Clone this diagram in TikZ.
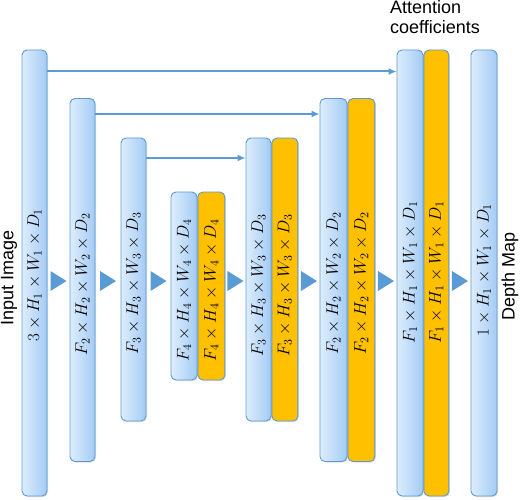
\documentclass[tikz,border=0pt]{standalone}
\usepackage{fix-cm}
\usepackage{fontspec}
\setsansfont{Liberation Sans}
\usetikzlibrary{arrows.meta,calc,shadows}
\definecolor{barline}{HTML}{5B9BD5}
\definecolor{barlight}{HTML}{DDEDFD}
\definecolor{bardark}{HTML}{A3CBF4}
\definecolor{attn}{HTML}{FFC000}

\begin{document}
\begin{tikzpicture}[x=1pt,y=-1pt,
	bar/.style={draw=barline, line width=0.9pt, rounded corners=5pt, inner sep=0pt,
		drop shadow={shadow xshift=1pt, shadow yshift=-1pt, opacity=0.25}},
	bluebar/.style={bar, left color=barlight, right color=bardark},
	attbar/.style={bar, fill=attn},
	dims/.style={rotate=90, inner sep=0pt, font=\fontsize{17}{20}\selectfont},
	side/.style={inner sep=0pt, font=\sffamily\fontsize{18}{20}\selectfont},
	skip/.style={draw=barline, line width=2pt, -{Latex[length=8pt,width=7pt]}},
	flow/.style={fill=barline}]
	\useasboundingbox (0,0) rectangle (522,500);
	
	% encoder
	\node[bluebar, minimum width=25pt, minimum height=446pt] (in1) at (34.5,273) {};
	\node[bluebar, minimum width=25pt, minimum height=363pt] (enc2) at (82.5,280) {};
	\node[bluebar, minimum width=25pt, minimum height=283pt] (enc3) at (133.5,279.5) {};
	
	% bottom, with attention
	\node[bluebar, minimum width=26pt, minimum height=188pt] (bott4) at (184,286) {};
	\node[attbar, minimum width=27pt, minimum height=188pt, anchor=west] (bott4o) at (bott4.east) {};
	
	% decoder, with attention
	\node[bluebar, minimum width=25pt, minimum height=283pt] (dec3) at (258.5,279.5) {};
	\node[attbar, minimum width=26pt, minimum height=283pt, anchor=west] (dec3o) at (dec3.east) {};
	\node[bluebar, minimum width=27pt, minimum height=363pt] (dec2) at (333.5,280) {};
	\node[attbar, minimum width=27pt, minimum height=363pt, anchor=west] (dec2o) at (dec2.east) {};
	\node[bluebar, minimum width=26pt, minimum height=446pt] (dec1) at (410,273) {};
	\node[attbar, minimum width=25pt, minimum height=446pt, anchor=west] (dec1o) at (dec1.east) {};
	
	% output
	\node[bluebar, minimum width=26pt, minimum height=446pt] (out) at (484,273) {};
	
	% sizes
	\node[dims] at (in1 |- 0,275) {$3\times H_1\times W_1\times D_1$};
	\node[dims] at (enc2 |- 0,284) {$F_2\times H_2\times W_2\times D_2$};
	\node[dims] at (enc3 |- 0,283) {$F_3\times H_3\times W_3\times D_3$};
	\node[dims] at (bott4 |- 0,290) {$F_4\times H_4\times W_4\times D_4$};
	\node[dims] at (bott4o |- 0,290) {$F_4\times H_4\times W_4\times D_4$};
	\node[dims] at (dec3 |- 0,285) {$F_3\times H_3\times W_3\times D_3$};
	\node[dims] at (dec3o |- 0,285) {$F_3\times H_3\times W_3\times D_3$};
	\node[dims] at (dec2 |- 0,283) {$F_2\times H_2\times W_2\times D_2$};
	\node[dims] at (dec2o |- 0,283) {$F_2\times H_2\times W_2\times D_2$};
	\node[dims] at (dec1 |- 0,272) {$F_1\times H_1\times W_1\times D_1$};
	\node[dims] at (dec1o |- 0,272) {$F_1\times H_1\times W_1\times D_1$};
	\node[dims] at (out |- 0,270) {$1\times H_1\times W_1\times D_1$};
	
	% side texts
	\node[side, rotate=90] (inlabel) at (9,278) {Input Image};
	\node[side, rotate=90] (outlabel) at (510,276) {Depth Map};
	\node[side, align=left, anchor=north west] (attlabel) at (390,0) {Attention\\coefficients};
	
	% skip connections
	\coordinate (sk1) at (0,71.5);
	\coordinate (sk2) at (0,114);
	\coordinate (sk3) at (0,158);
	\draw[skip] (in1.east |- sk1) -- (dec1.west |- sk1);
	\draw[skip] (enc2.east |- sk2) -- (dec2.west |- sk2);
	\draw[skip] (enc3.east |- sk3) -- (dec3.west |- sk3);
	
	% flow triangles
	\coordinate (row) at (0,281);
	\foreach \a/\b in {in1/enc2, enc2/enc3, enc3/bott4, bott4o/dec3, dec3o/dec2, dec2o/dec1, dec1o/out}{
		\path ($(\a.east)!.5!(\b.west)$) coordinate (m);
		\fill[flow] (m |- row) ++(-8,-10) -- ++(16,10) -- ++(-16,10) -- cycle;
	}
\end{tikzpicture}
\end{document}
